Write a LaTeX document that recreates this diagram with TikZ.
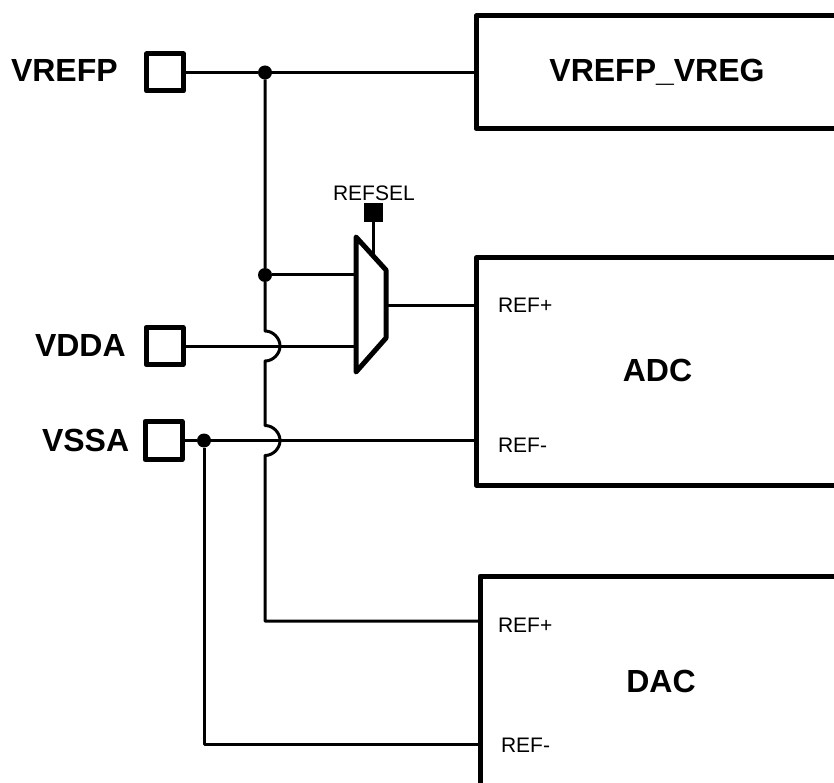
\documentclass[tikz,border=0pt]{standalone}
\usepackage{fontspec}
\setmainfont{Liberation Sans}
\tikzset{
  wire/.style={line width=3pt,line join=round},
  heavy/.style={line width=5pt,line join=round},
  blockbox/.style={draw,line width=5pt,line join=round,anchor=north west,inner sep=0pt,outer sep=0pt},
  pad/.style={draw,line width=5pt,line join=round,inner sep=0pt,outer sep=0pt,anchor=center},
  dotmark/.style={circle,fill=black,inner sep=0pt,outer sep=0pt,minimum size=14pt},
  biglabel/.style={inner sep=0pt,outer sep=0pt,font=\fontsize{32}{32}\selectfont\bfseries},
  smalllabel/.style={inner sep=0pt,outer sep=0pt,anchor=base west,font=\fontsize{21}{21}\selectfont},
}
\begin{document}
\begin{tikzpicture}[x=1pt,y=-1pt]
\useasboundingbox (0,0) rectangle (834,783);
\clip (0,0) rectangle (834,783);
% blocks
\node[blockbox,minimum width=420pt,minimum height=112.5pt] (vreg) at (476,16) {};
\node[blockbox,minimum width=420pt,minimum height=227pt] (adc) at (476,258) {};
\node[blockbox,minimum width=420pt,minimum height=260pt] (dac) at (480,576) {};
% pads
\node[pad,minimum width=37pt,minimum height=37pt] (padp) at (165,72.5) {};
\node[pad,minimum width=37pt,minimum height=37pt] (padd) at (164.5,346) {};
\node[pad,minimum width=37pt,minimum height=38pt] (pads) at (163.5,440.5) {};
% mux
\coordinate (mtl) at (356,237);
\coordinate (mtr) at (386,270);
\coordinate (mbr) at (386,338);
\coordinate (mbl) at (356,372);
\coordinate (mout) at (386,305);
\coordinate (min1) at (356,275);
\coordinate (min2) at (356,346);
\coordinate (msel) at (373.5,256);
\draw[heavy] (mtl) -- (mtr) -- (mbr) -- (mbl) -- cycle;
\node[rectangle,fill=black,inner sep=0pt,outer sep=0pt,minimum size=19pt] (sel) at (373.5,212.5) {};
% junctions
\node[dotmark] (j1) at (265,72.5) {};
\node[dotmark] (j2) at (265,275) {};
\node[dotmark] (j3) at (204,440.5) {};
\coordinate (h1a) at (265,331);
\coordinate (h1b) at (265,361);
\coordinate (h2a) at (265,425.5);
\coordinate (h2b) at (265,455.5);
\coordinate (dacp) at (dac.west |- 0,621);
\coordinate (dacm) at (dac.west |- 0,744);
\coordinate (cp) at (265,621);
\coordinate (cm) at (204,744);
\coordinate (adcm) at (adc.west |- j3);
% wires
\draw[wire] (padp.east) -- (j1) -- (vreg.west |- j1);
\draw[wire] (j1) -- (j2) -- (h1a)
  .. controls (273,331) and (280,338) .. (280,346)
  .. controls (280,354) and (273,361) .. (h1b) -- (h2a)
  .. controls (273,425.5) and (280,432.5) .. (280,440.5)
  .. controls (280,448.5) and (273,455.5) .. (h2b) -- (cp) -- (dacp);
\draw[wire] (j2) -- (min1);
\draw[wire] (padd.east) -- (min2);
\draw[wire] (pads.east) -- (j3) -- (adcm);
\draw[wire] (j3) -- (cm) -- (dacm);
\draw[wire] (mout) -- (adc.west |- mout);
\draw[wire] (sel) -- (msel);
% labels
\node[biglabel,anchor=base west] (lp) at (11,82) {VREFP};
\node[biglabel,anchor=base west] (ld) at (35,356) {VDDA};
\node[biglabel,anchor=base west] (ls) at (42,451) {VSSA};
\node[biglabel,anchor=base] (tv) at (657,82) {VREFP\_VREG};
\node[biglabel,anchor=base] (ta) at (657.5,381) {ADC};
\node[biglabel,anchor=base] (td) at (661,692) {DAC};
\node[smalllabel] (r1) at (498,312) {REF+};
\node[smalllabel] (r2) at (498,452) {REF-};
\node[smalllabel] (r3) at (498,632) {REF+};
\node[smalllabel] (r4) at (501,752) {REF-};
\node[smalllabel] (rs) at (333,201) {REFSEL};
\end{tikzpicture}
\end{document}
